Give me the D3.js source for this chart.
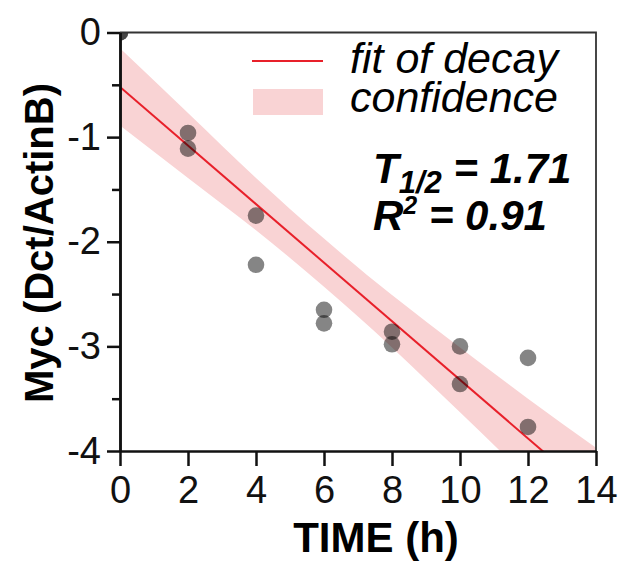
<!DOCTYPE html>
<html>
<head>
<meta charset="utf-8">
<script src="https://cdn.jsdelivr.net/npm/d3@7"></script>
<style>
  body { margin: 0; background: #fff; }
  text { font-family: "Liberation Sans", Arial, Helvetica, sans-serif; }
</style>
</head>
<body>
<svg id="drawing_region"></svg>
<script>
// measured points (time in h, log ratio)
const timeH   = [0, 0, 2, 2, 4, 4, 6, 6, 8, 8, 10, 10, 12, 12];
const mycVals = [0, 0, -0.96, -1.11, -1.75, -2.22, -2.65, -2.78, -2.86, -2.98, -3.00, -3.36, -3.11, -3.77];

// fitted decay line
const fitTime = [0, 14];
const fitVals = [-0.52, -4.44];

// confidence band
const bandTime  = [0, 2, 4, 6, 8, 10, 12, 14];
const bandUpper = [-0.15, -0.77, -1.39, -1.97, -2.51, -3.01, -3.50, -3.97];
const bandLower = [-0.89, -1.39, -1.89, -2.43, -3.01, -3.63, -4.26, -4.91];

const xTicks = [0, 2, 4, 6, 8, 10, 12, 14];
const yTicks = [0, -1, -2, -3, -4];
const yMinorTicks = [-0.5, -1.5, -2.5, -3.5];

const config = {
    width: 634,
    height: 563,
    margin: { top: 32.5, right: 38, bottom: 112, left: 120 }
};

const svg = d3.select('#drawing_region')
    .attr('width', config.width)
    .attr('height', config.height);

const inner_width = config.width - config.margin.left - config.margin.right;
const inner_height = config.height - config.margin.top - config.margin.bottom;

const chart = svg.append('g')
    .attr('transform', `translate(${config.margin.left}, ${config.margin.top})`);

const xscale = d3.scaleLinear().domain([0, 14]).range([0, inner_width]);
const yscale = d3.scaleLinear().domain([-4, 0]).range([inner_height, 0]);

chart.append('clipPath').attr('id', 'plotclip')
    .append('rect')
    .attr('width', inner_width)
    .attr('height', inner_height);

const plot = chart.append('g').attr('clip-path', 'url(#plotclip)');

// band
const band = bandTime.map((t, i) => ({ t: t, hi: bandUpper[i], lo: bandLower[i] }));
plot.append('path')
    .datum(band)
    .attr('fill', '#f9d3d4')
    .attr('d', d3.area()
        .x(d => xscale(d.t))
        .y0(d => yscale(d.lo))
        .y1(d => yscale(d.hi))
        .curve(d3.curveNatural));

// fit
plot.append('path')
    .datum(fitTime.map((t, i) => ({ t: t, v: fitVals[i] })))
    .attr('fill', 'none')
    .attr('stroke', '#e8202a')
    .attr('stroke-width', 2)
    .attr('d', d3.line().x(d => xscale(d.t)).y(d => yscale(d.v)));

// points
plot.selectAll('circle')
    .data(timeH.map((t, i) => ({ t: t, v: mycVals[i] })))
    .enter()
    .append('circle')
    .attr('cx', d => xscale(d.t))
    .attr('cy', d => yscale(d.v))
    .attr('r', 8.3)
    .attr('fill', '#000')
    .attr('fill-opacity', 0.48);

// frame (top/right)
chart.append('path')
    .attr('d', `M0,0H${inner_width}V${inner_height}`)
    .attr('fill', 'none')
    .attr('stroke', '#333')
    .attr('stroke-width', 1.8);

// axes
const fmt = v => String(v).replace('\u2212', '-');
const xaxis = d3.axisBottom(xscale).tickValues(xTicks).tickSize(15).tickSizeOuter(0).tickPadding(10).tickFormat(fmt);
const yaxis = d3.axisLeft(yscale).tickValues(yTicks).tickSize(13).tickSizeOuter(0).tickPadding(6).tickFormat(fmt);
const yminor = d3.axisLeft(yscale).tickValues(yMinorTicks).tickSize(8).tickSizeOuter(0).tickFormat('');

const xg = chart.append('g')
    .attr('transform', `translate(0, ${inner_height})`)
    .call(xaxis);
const yg = chart.append('g').call(yaxis);
const ymg = chart.append('g').call(yminor);

[xg, yg, ymg].forEach(g => {
    g.select('.domain').attr('stroke', '#111').attr('stroke-width', 2.5);
    g.selectAll('.tick line').attr('stroke', '#111').attr('stroke-width', 2.5);
    g.selectAll('.tick text')
        .attr('fill', '#111')
        .style('font-family', '"Liberation Sans", Arial, sans-serif')
        .style('font-size', '38px');
});
xg.selectAll('.tick text').attr('dy', '0.71em');

// axis labels
svg.append('text')
    .attr('x', 376)
    .attr('y', 552)
    .attr('text-anchor', 'middle')
    .style('font-size', '42px')
    .style('font-weight', 'bold')
    .text('TIME (h)');

svg.append('text')
    .attr('transform', 'translate(53, 243) rotate(-90)')
    .attr('text-anchor', 'middle')
    .style('font-size', '40px')
    .style('font-weight', 'bold')
    .text('Myc (Dct/ActinB)');

// legend
svg.append('line')
    .attr('x1', 252).attr('x2', 323)
    .attr('y1', 61).attr('y2', 61)
    .attr('stroke', '#e8202a')
    .attr('stroke-width', 2);
svg.append('rect')
    .attr('x', 253).attr('y', 89)
    .attr('width', 70).attr('height', 26)
    .attr('fill', '#f9d3d4');
svg.append('text')
    .attr('x', 350).attr('y', 73)
    .style('font-size', '43px')
    .style('font-style', 'italic')
    .text('fit of decay');
svg.append('text')
    .attr('x', 350).attr('y', 112)
    .style('font-size', '43px')
    .style('font-style', 'italic')
    .text('confidence');

// stats
const t12 = svg.append('text')
    .attr('x', 373).attr('y', 183)
    .style('font-size', '42px')
    .style('font-weight', 'bold')
    .style('font-style', 'italic');
t12.append('tspan').text('T');
t12.append('tspan').attr('dy', 10).style('font-size', '31px').text('1/2');
t12.append('tspan').attr('dy', -10).text(' = 1.71');

const r2 = svg.append('text')
    .attr('x', 373).attr('y', 230)
    .style('font-size', '42px')
    .style('font-weight', 'bold')
    .style('font-style', 'italic');
r2.append('tspan').text('R');
r2.append('tspan').attr('dy', -16).style('font-size', '25px').text('2');
r2.append('tspan').attr('dy', 16).text(' = 0.91');
</script>
</body>
</html>
